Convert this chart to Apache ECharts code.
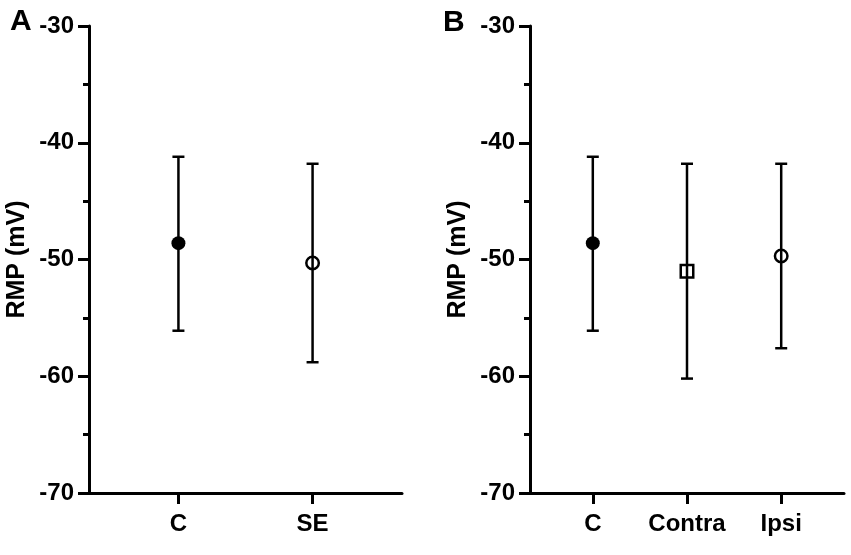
<!DOCTYPE html>
<html>
<head>
<meta charset="utf-8">
<script src="https://cdn.jsdelivr.net/npm/echarts@6/dist/echarts.min.js"></script>
<style>
html,body{margin:0;padding:0;background:#fff;}
#chart{width:851px;height:555px;}
</style>
</head>
<body>
<div id="chart"></div>
<script>
// ---- data ----
const categoriesA = ['C', 'SE'];
const meanA  = [-48.6, -50.3];
const upperA = [-41.2, -41.8];
const lowerA = [-56.1, -58.8];

const categoriesB = ['C', 'Contra', 'Ipsi'];
const meanB  = [-48.6, -51.0, -49.7];
const upperB = [-41.2, -41.8, -41.8];
const lowerB = [-56.1, -60.2, -57.6];

const yMin = -70, yMax = -30, yStep = 10;
const yTitle = 'RMP (mV)';
const panelLabels = ['A', 'B'];

// ---- build ----
const FONT = '"Liberation Sans", Arial, sans-serif';

// pad categories so each real group sits 2 padding slots from the axis ends
function padCats(cats) {
  const out = ['_p0', '_p1'];
  cats.forEach((c, i) => {
    out.push(c);
    if (i < cats.length - 1) { out.push('_a' + i, '_b' + i); }
  });
  out.push('_e0', '_e1');
  return out;
}
const isReal = (idx) => idx % 3 === 2;
const realIdx = (i) => 3 * i + 2;

function markerStyle(name) {
  if (name === 'C') return { symbol: 'circle', symbolSize: 14, itemStyle: { color: '#000', borderWidth: 0, opacity: 1 } };
  if (name === 'Contra') return { symbol: 'rect', symbolSize: 12.5, itemStyle: { color: 'rgba(0,0,0,0)', borderColor: '#000', borderWidth: 2.5, opacity: 1 } };
  return { symbol: 'circle', symbolSize: 12.5, itemStyle: { color: 'rgba(0,0,0,0)', borderColor: '#000', borderWidth: 2.5, opacity: 1 } };
}

function xAxisFor(cats, gridIndex) {
  return {
    type: 'category', gridIndex: gridIndex, data: padCats(cats), boundaryGap: false,
    axisLine: { show: true, lineStyle: { color: '#000', width: 3 } },
    axisTick: { show: true, length: 11, interval: (i) => isReal(i), lineStyle: { color: '#000', width: 3 } },
    axisLabel: { interval: (i) => isReal(i), color: '#000', fontSize: 24, fontWeight: 'bold', fontFamily: FONT, margin: 19 },
    splitLine: { show: false }
  };
}
function yAxisFor(gridIndex) {
  return {
    type: 'value', gridIndex: gridIndex, min: yMin, max: yMax, interval: yStep,
    name: yTitle, nameLocation: 'middle', nameGap: 59,
    nameTextStyle: { color: '#000', fontSize: 25, fontWeight: 'bold', fontFamily: FONT },
    axisLine: { show: true, lineStyle: { color: '#000', width: 3 } },
    axisTick: { show: true, length: 11, lineStyle: { color: '#000', width: 3 } },
    minorTick: { show: true, splitNumber: 2, length: 6, lineStyle: { color: '#000', width: 3 } },
    axisLabel: { color: '#000', fontSize: 24, fontWeight: 'bold', fontFamily: FONT, margin: 15 },
    splitLine: { show: false }, minorSplitLine: { show: false }
  };
}

function errSeries(cats, upper, lower, gi) {
  return {
    type: 'custom', xAxisIndex: gi, yAxisIndex: gi, z: 2,
    data: cats.map((c, i) => [realIdx(i), lower[i], upper[i]]),
    encode: { x: 0, y: [1, 2] },
    renderItem: function (params, api) {
      const x = api.value(0);
      const lo = api.coord([x, api.value(1)]);
      const hi = api.coord([x, api.value(2)]);
      const hw = 6;
      const st = { stroke: '#000', lineWidth: 2.5 };
      return {
        type: 'group',
        children: [
          { type: 'line', shape: { x1: lo[0], y1: lo[1], x2: hi[0], y2: hi[1] }, style: st },
          { type: 'line', shape: { x1: hi[0] - hw, y1: hi[1], x2: hi[0] + hw, y2: hi[1] }, style: st },
          { type: 'line', shape: { x1: lo[0] - hw, y1: lo[1], x2: lo[0] + hw, y2: lo[1] }, style: st }
        ]
      };
    }
  };
}
function meanSeries(cats, mean, gi) {
  return {
    type: 'scatter', xAxisIndex: gi, yAxisIndex: gi, z: 3,
    data: cats.map((c, i) => Object.assign({ value: [realIdx(i), mean[i]] }, markerStyle(c))),
    emphasis: { disabled: true }
  };
}

const chart = echarts.init(document.getElementById('chart'), null, { renderer: 'canvas' });
chart.setOption({
  animation: false,
  backgroundColor: '#fff',
  title: [
    { text: panelLabels[0], left: 5, top: 2, textStyle: { color: '#000', fontSize: 30, fontWeight: 'bold', fontFamily: FONT } },
    { text: panelLabels[1], left: 438, top: 3, textStyle: { color: '#000', fontSize: 30, fontWeight: 'bold', fontFamily: FONT } }
  ],
  grid: [
    { left: 89, top: 26, width: 313, height: 467, containLabel: false, outerBoundsMode: 'none' },
    { left: 530, top: 26, width: 314, height: 467, containLabel: false, outerBoundsMode: 'none' }
  ],
  xAxis: [xAxisFor(categoriesA, 0), xAxisFor(categoriesB, 1)],
  yAxis: [yAxisFor(0), yAxisFor(1)],
  series: [
    errSeries(categoriesA, upperA, lowerA, 0),
    meanSeries(categoriesA, meanA, 0),
    errSeries(categoriesB, upperB, lowerB, 1),
    meanSeries(categoriesB, meanB, 1)
  ]
});
</script>
</body>
</html>
